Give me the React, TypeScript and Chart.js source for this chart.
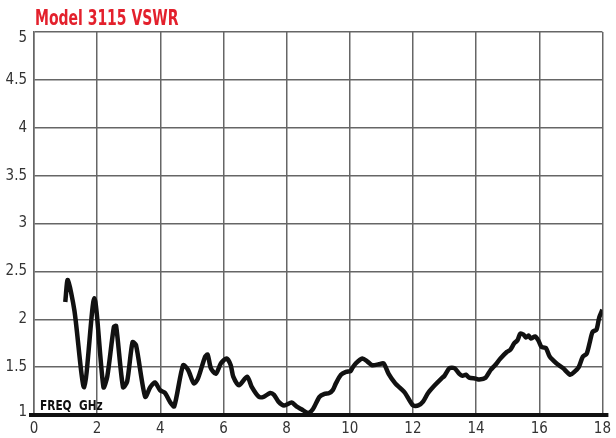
import React, { useEffect, useRef } from "react";
import { Chart, registerables } from "chart.js";

Chart.register(...registerables);

const TITLE = "Model 3115 VSWR";
const AXIS_LABEL = "FREQ  GHz";
const X_TICKS = [0, 2, 4, 6, 8, 10, 12, 14, 16, 18];
const Y_TICKS = [1, 1.5, 2, 2.5, 3, 3.5, 4, 4.5, 5];

const freqGHz = [
  0.99, 1.07, 1.28, 1.59, 1.91, 2.2, 2.32, 2.53, 2.6, 2.82, 2.95, 3.12, 3.23,
  3.52, 3.68, 3.83, 3.99, 4.15, 4.3, 4.44, 4.72, 4.88, 5.06, 5.19, 5.42, 5.5,
  5.6, 5.76, 5.92, 6.1, 6.23, 6.31, 6.49, 6.75, 6.9, 7.12, 7.27, 7.48, 7.6,
  7.74, 7.92, 8.16, 8.31, 8.47, 8.68, 8.83, 9.04, 9.2, 9.35, 9.46, 9.56, 9.72,
  9.88, 10.03, 10.08, 10.19, 10.4, 10.55, 10.71, 10.92, 11.07, 11.23, 11.44,
  11.6, 11.75, 12.0, 12.17, 12.32, 12.48, 12.69, 12.9, 13.0, 13.16, 13.31,
  13.47, 13.57, 13.68, 13.78, 13.99, 14.1, 14.3, 14.46, 14.6, 14.77, 14.98,
  15.08, 15.21, 15.31, 15.4, 15.5, 15.58, 15.66, 15.73, 15.87, 15.97, 16.07,
  16.21, 16.33, 16.54, 16.75, 16.98, 17.11, 17.25, 17.38, 17.5, 17.6, 17.69,
  17.81, 17.9, 18.0,
];

const vswr = [
  2.18, 2.41, 2.09, 1.29, 2.22, 1.29, 1.4, 1.92, 1.93, 1.29, 1.35, 1.76, 1.73,
  1.19, 1.29, 1.34, 1.26, 1.23, 1.14, 1.09, 1.52, 1.47, 1.33, 1.38, 1.61, 1.63,
  1.49, 1.43, 1.54, 1.59, 1.52, 1.4, 1.31, 1.4, 1.29, 1.19, 1.19, 1.23, 1.21,
  1.14, 1.1, 1.13, 1.09, 1.06, 1.02, 1.06, 1.19, 1.22, 1.23, 1.26, 1.33, 1.42,
  1.45, 1.46, 1.49, 1.54, 1.59, 1.56, 1.52, 1.53, 1.54, 1.43, 1.33, 1.28, 1.23,
  1.1, 1.1, 1.14, 1.23, 1.31, 1.38, 1.41, 1.49, 1.49, 1.43, 1.41, 1.42, 1.39,
  1.38, 1.37, 1.39, 1.47, 1.52, 1.59, 1.66, 1.68, 1.75, 1.78, 1.85, 1.84, 1.81,
  1.83, 1.8, 1.82, 1.78, 1.71, 1.7, 1.61, 1.54, 1.49, 1.42, 1.45, 1.5, 1.61,
  1.64, 1.76, 1.87, 1.89, 2.02, 2.1,
];

const FONT = '"Liberation Sans Narrow", "DejaVu Sans Condensed", "Liberation Sans", Arial, sans-serif';

const decorPlugin = {
  id: "decor",
  afterDraw(chart: any) {
    const { ctx, chartArea } = chart;
    const xs = chart.scales.x;
    const ys = chart.scales.y;
    ctx.save();
    // title (horizontally condensed)
    ctx.save();
    ctx.translate(chartArea.left + 1, 25);
    ctx.scale(0.74, 1);
    ctx.fillStyle = "#e3202c";
    ctx.font = `bold 21px ${FONT}`;
    ctx.textAlign = "left";
    ctx.textBaseline = "alphabetic";
    ctx.fillText(TITLE, 0, 0);
    ctx.restore();
    // thick baseline
    const yb = ys.getPixelForValue(1);
    ctx.strokeStyle = "#111";
    ctx.lineWidth = 4;
    ctx.beginPath();
    ctx.moveTo(chartArea.left - 5, yb);
    ctx.lineTo(xs.getPixelForValue(18) + 6, yb);
    ctx.stroke();
    // axis label
    ctx.save();
    ctx.translate(chartArea.left + 6, yb - 5);
    ctx.scale(0.84, 1);
    ctx.fillStyle = "#111";
    ctx.font = `bold 14px ${FONT}`;
    ctx.textAlign = "left";
    ctx.textBaseline = "alphabetic";
    ctx.fillText(AXIS_LABEL, 0, 0);
    ctx.restore();
    ctx.restore();
  },
};

export default function App() {
  const ref = useRef<HTMLCanvasElement>(null);
  useEffect(() => {
    document.body.style.margin = "0";
    const data = freqGHz.map((f, i) => ({ x: f, y: vswr[i] }));
    const chart = new Chart(ref.current!, {
      type: "line",
      data: {
        datasets: [
          {
            data,
            borderColor: "#111",
            borderWidth: 4.5,
            pointRadius: 0,
            tension: 0.25,
            fill: false,
          },
        ],
      },
      options: {
        animation: false,
        responsive: false,
        maintainAspectRatio: false,
        layout: { padding: { top: 32, right: 6, left: 0, bottom: 0 } },
        plugins: {
          legend: { display: false },
          tooltip: { enabled: false },
          title: { display: false },
        },
        scales: {
          x: {
            type: "linear",
            min: 0,
            max: 18,
            afterBuildTicks: (s: any) => {
              s.ticks = X_TICKS.map((v) => ({ value: v }));
            },
            afterFit: (s: any) => {
              s.height = 23;
            },
            ticks: {
              color: "#333",
              font: { family: FONT, size: 15 },
              padding: 5,
              maxRotation: 0,
              autoSkip: false,
            },
            grid: { color: "#666", lineWidth: 1.5, drawTicks: false },
            border: { display: false },
          },
          y: {
            type: "linear",
            min: 1,
            max: 5,
            afterBuildTicks: (s: any) => {
              s.ticks = Y_TICKS.map((v) => ({ value: v }));
            },
            afterFit: (s: any) => {
              s.width = 34;
            },
            ticks: {
              color: "#333",
              font: (c: any) => {
                const v = c.tick ? c.tick.value : 0;
                if (v === 5) return { family: FONT, size: 15, lineHeight: 0.75 };
                if (v === 1) return { family: FONT, size: 15, lineHeight: 0.45 };
                return { family: FONT, size: 15 };
              },
              padding: 7,
              autoSkip: false,
              callback: (v: any) => {
                if (v === 5) return ["", "5"];
                if (v === 1) return ["1", ""];
                return String(v);
              },
            },
            grid: { color: "#666", lineWidth: 1.5, drawTicks: false },
            border: { color: "#666", width: 1.5 },
          },
        },
      },
      plugins: [decorPlugin],
    });
    return () => chart.destroy();
  }, []);
  return (
    <div style={{ position: "absolute", left: 0, top: 0, width: 616, height: 438 }}>
      <canvas ref={ref} width={616} height={438} style={{ width: 616, height: 438 }} />
    </div>
  );
}
